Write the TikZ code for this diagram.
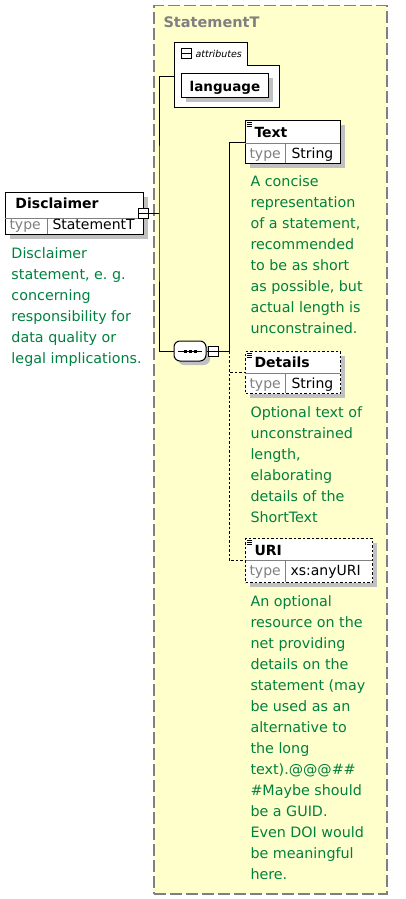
\documentclass[tikz,border=0pt]{standalone}
\usepackage{fontspec}
\setmainfont{DejaVu Sans}
\usepackage{xcolor}
\usetikzlibrary{shadows, math}
\definecolor{docgreen}{RGB}{0,128,64}
\definecolor{grpfill}{RGB}{255,255,204}
\definecolor{grpgray}{RGB}{128,128,128}
\definecolor{shadegray}{RGB}{192,192,192}

\tikzset{
  grpbox/.style={draw=grpgray, fill=grpfill, line width=1.5pt, dash pattern=on 12pt off 4pt, anchor=north west, inner sep=0pt},
  grptitle/.style={text=grpgray, font=\fontsize{14.5}{17}\selectfont\bfseries, anchor=base west, inner sep=0pt},
  elembox/.style={draw=black, fill=white, anchor=north west, inner sep=0pt, drop shadow={shadow xshift=4pt, shadow yshift=-4pt, fill=shadegray, opacity=1}},
  optbox/.style={elembox, dash pattern=on 2.5pt off 2pt},
  seqbox/.style={rectangle, rounded corners=6pt, draw=black, fill=white, minimum width=32pt, minimum height=20pt, inner sep=0pt, drop shadow={shadow xshift=4pt, shadow yshift=-4pt, fill=shadegray, opacity=1}},
  namelbl/.style={font=\fontsize{14}{17}\selectfont\bfseries, anchor=base west, inner sep=0pt},
  typelbl/.style={text=grpgray, font=\fontsize{14}{17}\selectfont, anchor=base west, inner sep=0pt},
  typeval/.style={font=\fontsize{14}{17}\selectfont, anchor=base west, inner sep=0pt},
  descr/.style={text=docgreen, font=\fontsize{14.3}{21}\selectfont, align=left, anchor=north west, inner sep=0pt},
  conbox/.style={draw=black, fill=white, minimum size=10pt, inner sep=0pt, path picture={\draw (path picture bounding box.west) -- (path picture bounding box.east);}},
  divider/.style={draw=grpgray},
  optconn/.style={dash pattern=on 2.5pt off 2pt},
}

\begin{document}
\begin{tikzpicture}[x=1pt, y=-1pt, line width=1pt]
\tikzmath{
\spx=159;
\sqx=229;
\tx=245;
}
\useasboundingbox (0,0) rectangle (405,899);

%complex type
\node[grpbox, minimum width=233pt, minimum height=888pt] (statementT) at (153,5) {};
\node[grptitle] (grpname) at (163,28) {StatementT};

%attributes
\draw[fill=white] (174,43) -- (247,43) -- (247,66) -- (279,66) -- (279,107) -- (174,107) -- cycle;
\node[conbox] (attrtoggle) at (186,54) {};
\node[font=\fontsize{9.5}{11}\selectfont\itshape, anchor=base west, inner sep=0pt] (attrlbl) at (195,58) {attributes};
\node[elembox, minimum width=87pt, minimum height=24pt, text height=18pt, text depth=6pt, font=\fontsize{13.5}{16}\selectfont\bfseries] (language) at (181,73) {language};
\coordinate (attrin) at (174,76);

%Disclaimer
\node[elembox, minimum width=138pt, minimum height=42pt] (disclaimer) at (5,192) {};
\draw[divider] (5,218) -- (143,218) (47,218) -- (47,234);
\node[namelbl] (disclaimername) at (15,208) {Disclaimer};
\node[typelbl] (disclaimertype) at (9,229) {type};
\node[typeval] (disclaimertypeval) at (52,229) {StatementT};
\node[conbox] (disccon) at (143.5,213.5) {};
\node[descr] (disclaimerdoc) at (11,247.5) {Disclaimer\\statement, e.\ g.\\concerning\\responsibility for\\data quality or\\legal implications.};

%sequence
\node[seqbox] (seq) at (190,351) {};
\draw ([xshift=-12pt]seq.center) -- ([xshift=12pt]seq.center);
\foreach \dx in {-5,0,5}
  \fill ([xshift=\dx pt]seq.center) +(-1.5,-1.5) rectangle +(1.5,1.5);
\node[conbox] (seqcon) at (213.5,351) {};

%Text
\node[elembox, minimum width=95pt, minimum height=43pt] (textel) at (\tx,120) {};
\draw[divider] (\tx,143) -- (340,143) (285,143) -- (285,163);
\draw[line width=0.6pt] (246.5,122) -- (252,122) (246.5,124) -- (252,124) (246.5,126) -- (252,126);
\node[namelbl] (textname) at (254,137) {Text};
\node[typelbl] (texttype) at (249,158) {type};
\node[typeval] (texttypeval) at (291,158) {String};
\node[descr] (textdoc) at (250,175.5) {A concise\\representation\\of a statement,\\recommended\\to be as short\\as possible, but\\actual length is\\unconstrained.};

%Details
\node[optbox, minimum width=95pt, minimum height=42pt] (details) at (\tx,351) {};
\draw[divider] (\tx,373) -- (340,373) (285,373) -- (285,393);
\draw[line width=0.6pt] (246.5,353) -- (252,353) (246.5,355) -- (252,355) (246.5,357) -- (252,357);
\node[namelbl] (detailsname) at (254,367) {Details};
\node[typelbl] (detailstype) at (249,388) {type};
\node[typeval] (detailstypeval) at (291,388) {String};
\node[descr] (detailsdoc) at (250,406.5) {Optional text of\\unconstrained\\length,\\elaborating\\details of the\\ShortText};

%URI
\node[optbox, minimum width=127pt, minimum height=44pt] (uri) at (\tx,538) {};
\draw[divider] (\tx,560) -- (372,560) (285,560) -- (285,582);
\draw[line width=0.6pt] (246.5,540) -- (252,540) (246.5,542) -- (252,542) (246.5,544) -- (252,544);
\node[namelbl] (uriname) at (254,555) {URI};
\node[typelbl] (uritype) at (249,575) {type};
\node[typeval] (uritypeval) at (290,575) {xs:anyURI};
\node[descr] (uridoc) at (250,595.5) {An optional\\resource on the\\net providing\\details on the\\statement (may\\be used as an\\alternative to\\the long\\text).@@@\#\#\\\#Maybe should\\be a GUID.\\Even DOI would\\be meaningful\\here.};

%connectors
\coordinate (spine) at (\spx,213.5);
\coordinate (seqspine) at (\sqx,351);
\draw (disccon.east) -- (spine);
\draw (attrin) -| (spine) |- (seq.west);
\draw (seq.east) -- (seqcon.west);
\draw (seqcon.east) -- (seqspine) |- (textel.west);
\draw[optconn] (seqspine) |- (details.west);
\draw[optconn] (seqspine) |- (uri.west);
\end{tikzpicture}
\end{document}
